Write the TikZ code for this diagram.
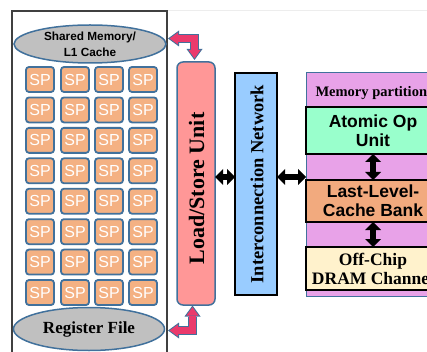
\documentclass[tikz,border=0pt]{standalone}
\usepackage{fontspec}
\setmainfont{Liberation Serif}
\setsansfont{Liberation Sans}
\usetikzlibrary{arrows.meta,calc,shapes.geometric}

\definecolor{edgeblue}{HTML}{41719C}
\definecolor{framegray}{HTML}{404040}
\definecolor{spfill}{HTML}{F4B183}
\definecolor{memgray}{HTML}{C0C0C0}
\definecolor{lsufill}{HTML}{FF9797}
\definecolor{icnfill}{HTML}{99CCFF}
\definecolor{partfill}{HTML}{E8A2E8}
\definecolor{atomfill}{HTML}{99FFCC}
\definecolor{llcfill}{HTML}{F2AA7E}
\definecolor{dramfill}{HTML}{FFF2CC}
\definecolor{arrowpink}{HTML}{EA3A6C}

\tikzset{
  smframe/.style={draw=framegray, line width=1.5pt, inner sep=0pt, outer sep=0pt,
    minimum width=155, minimum height=380, anchor=north west},
  memellipse/.style={ellipse, draw=edgeblue, line width=1.5pt, fill=memgray,
    inner sep=0pt, outer sep=0pt, align=center},
  spbox/.style={draw=edgeblue, line width=1.8pt, fill=spfill, rounded corners=3pt,
    minimum width=28, minimum height=25, inner sep=0pt, text=white,
    font=\sffamily\fontsize{16}{16}\selectfont},
  lsubox/.style={draw=edgeblue, line width=1.5pt, fill=lsufill, rounded corners=6pt,
    minimum width=38, minimum height=243, inner sep=0pt, outer sep=0pt},
  icnbox/.style={draw=black, line width=1.8pt, fill=icnfill,
    minimum width=42, minimum height=222, inner sep=0pt, outer sep=0pt},
  partbox/.style={draw=edgeblue, line width=1pt, fill=partfill,
    minimum width=144, minimum height=223, inner sep=0pt, outer sep=0pt},
  unitbox/.style={draw=black, line width=1.2pt, minimum width=134,
    inner sep=0pt, outer sep=0pt, align=center},
  sanslabel/.style={font=\sffamily\bfseries\fontsize{17.5}{19}\selectfont},
  seriflabel/.style={font=\bfseries\fontsize{17.5}{19}\selectfont},
  fatdouble/.style={draw=black, line width=5.5pt,
    {Triangle[length=8pt,width=16pt,line width=0pt]}-{Triangle[length=8pt,width=16pt,line width=0pt]}},
  elbowouter/.style={draw=edgeblue, line width=9.5pt, line join=miter,
    {Triangle[length=11pt,width=16pt,line width=0pt]}-{Triangle[length=11pt,width=16pt,line width=0pt]}},
  elbowinner/.style={draw=arrowpink, line width=6.5pt, line join=miter,
    shorten <=1.7pt, shorten >=1.7pt,
    {Triangle[length=8.3pt,width=12pt,line width=0pt]}-{Triangle[length=8.3pt,width=12pt,line width=0pt]}},
}

\begin{document}
\begin{tikzpicture}[x=1pt,y=-1pt]
\useasboundingbox (0,0) rectangle (427,352);
\clip (0,0) rectangle (427,352);

% faint rule along the top
\draw[black!7, line width=0.8pt] (167,10) -- (427,10);

% streaming multiprocessor frame
\node[smframe] (sm) at (12,11) {};

% shared memory and register file
\node[memellipse, minimum width=152, minimum height=38,
  font=\sffamily\bfseries\fontsize{11.8}{16}\selectfont] (smem) at (90,44)
  {Shared Memory/\\L1 Cache};
\node[memellipse, minimum width=151, minimum height=43,
  font=\bfseries\fontsize{17}{19}\selectfont] (rf) at (89,329) {Register File};

% 8 x 4 grid of stream processors
\foreach \r in {0,...,7}{
  \foreach \c/\x in {1/40,2/75,3/109,4/143}{
    \node[spbox] (sp-\r-\c) at (\x,{79.5+30.43*\r}) {SP};
  }
}

% load/store unit
\node[lsubox] (lsu) at (196,183.5) {};
\node[rotate=90, font=\bfseries\fontsize{22}{22}\selectfont] (lsutext)
  at ($(lsu.center)+(0.5,5)$) {Load/Store Unit};

% interconnection network
\node[icnbox] (icn) at (256,184) {};
\node[rotate=90, font=\bfseries\fontsize{18.5}{18.5}\selectfont] (icntext)
  at ($(icn.center)+(1,0)$) {Interconnection Network};

% memory partition
\node[partbox] (mp) at (378,184.5) {};
\node[anchor=base west, font=\bfseries\fontsize{14.5}{14.5}\selectfont] (mptext)
  at (312,97) {Memory partition};
\node[unitbox, fill=atomfill, minimum height=47, sanslabel] (atom) at (373,130.5)
  {Atomic Op\\Unit};
\node[unitbox, fill=llcfill, minimum height=42, sanslabel] (llc) at (373,201)
  {Last-Level-\\Cache Bank};
\node[unitbox, fill=dramfill, minimum height=43, seriflabel] (dram) at (373,268.5)
  {Off-Chip\\DRAM Channel};

% black bidirectional links
\coordinate (linky) at (0,177);
\draw[fatdouble] (lsu.east |- linky) -- (icn.west |- linky);
\draw[fatdouble] (icn.east |- linky) -- (mp.west |- linky);
\draw[fatdouble] (atom.south) -- (llc.north);
\draw[fatdouble] (llc.south) -- (dram.north);

% pink elbow links to the load/store unit
\draw[elbowouter] ($(smem.east)+(2,-5.5)$) -| ($(lsu.north)+(-1.5,-2)$);
\draw[elbowinner] ($(smem.east)+(2,-5.5)$) -| ($(lsu.north)+(-1.5,-2)$);
\draw[elbowouter] ($(lsu.south)+(-3.5,0.5)$) |- ($(rf.east)+(3.5,1.5)$);
\draw[elbowinner] ($(lsu.south)+(-3.5,0.5)$) |- ($(rf.east)+(3.5,1.5)$);
\end{tikzpicture}
\end{document}
